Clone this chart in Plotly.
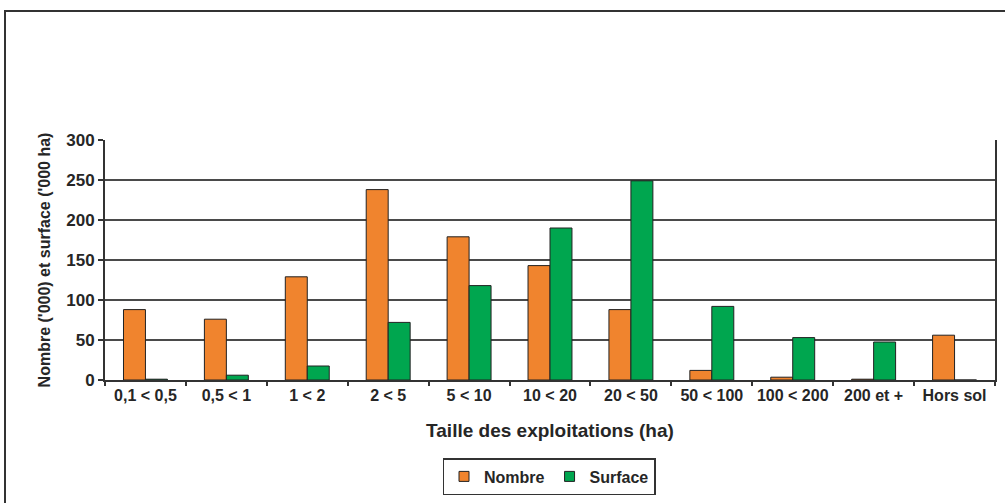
import plotly.graph_objects as go

categories = ["0,1 < 0,5", "0,5 < 1", "1 < 2", "2 < 5", "5 < 10", "10 < 20",
              "20 < 50", "50 < 100", "100 < 200", "200 et +", "Hors sol"]
nombre = [88, 76, 129, 238, 179, 143, 88, 12, 3.5, 1, 56]
surface = [1, 6, 17.5, 72, 118, 190, 249, 92, 53, 47.5, 0]
y_ticks = [0, 50, 100, 150, 200, 250, 300]

FONT = "Arial, Liberation Sans, sans-serif"
ORANGE = "#F0842E"
GREEN = "#00A64F"
TXT = "#262626"

fig = go.Figure()
fig.add_trace(go.Bar(name="Nombre", x=categories, y=nombre, showlegend=False,
                     marker=dict(color=ORANGE, line=dict(color="#222222", width=1))))
fig.add_trace(go.Bar(name="Surface", x=categories, y=surface, showlegend=False,
                     marker=dict(color=GREEN, line=dict(color="#222222", width=1))))
# legend entries with small square swatches
for name, col in (("Nombre", ORANGE), ("Surface", GREEN)):
    fig.add_trace(go.Scatter(name=name, x=[None], y=[None], mode="markers",
                             marker=dict(symbol="square", size=10, color=col,
                                         line=dict(color="#222222", width=1))))

L, R, T, B = 105, 10, 140, 123
W, H = 1005, 503
pw, ph = W - L - R, H - T - B

def px_x(p):
    return (p - L) / pw

def px_y(p):
    return (H - B - p) / ph

fig.update_layout(
    width=W, height=H,
    margin=dict(l=L, r=R, t=T, b=B, autoexpand=False),
    paper_bgcolor="white", plot_bgcolor="white",
    barmode="group", bargap=0.457, bargroupgap=0,
    font=dict(family=FONT, size=12, color=TXT),
    showlegend=True,
    legend=dict(orientation="h", x=px_x(549), y=px_y(458), xanchor="center", yanchor="top",
                bordercolor="#333333", borderwidth=1.5, bgcolor="white",
                font=dict(family=FONT, size=16, color=TXT, weight="bold"),
                itemwidth=30, tracegroupgap=0),
    xaxis=dict(
        type="category", automargin=False,
        showline=True, linecolor="#333333", linewidth=2,
        ticks="outside", tickson="boundaries", ticklen=4, tickcolor="#333333", tickwidth=2,
        tickangle=0,
        tickfont=dict(family=FONT, size=16, color=TXT, weight="bold"),
        title=dict(text="Taille des exploitations (ha)", standoff=20,
                   font=dict(family=FONT, size=19, color=TXT, weight="bold")),
        showgrid=False, mirror=False,
    ),
    yaxis=dict(
        range=[0, 300], tickvals=y_ticks, automargin=False,
        showline=True, linecolor="#333333", linewidth=2, mirror=True,
        ticks="outside", ticklen=5, tickcolor="#333333", tickwidth=2,
        showgrid=True, gridcolor="#4a4a4a", gridwidth=2,
        zeroline=False,
        tickfont=dict(family=FONT, size=17, color=TXT, weight="bold"),
        title=dict(text="Nombre ('000) et surface ('000 ha)", standoff=12,
                   font=dict(family=FONT, size=16, color=TXT, weight="bold")),
    ),
)

# outer frame of the original figure
fig.add_shape(type="rect", xref="paper", yref="paper",
              x0=px_x(5), x1=px_x(1015), y0=px_y(515), y1=px_y(11),
              line=dict(color="#333333", width=2), fillcolor="rgba(0,0,0,0)", layer="below")

fig.write_html("out.html")
